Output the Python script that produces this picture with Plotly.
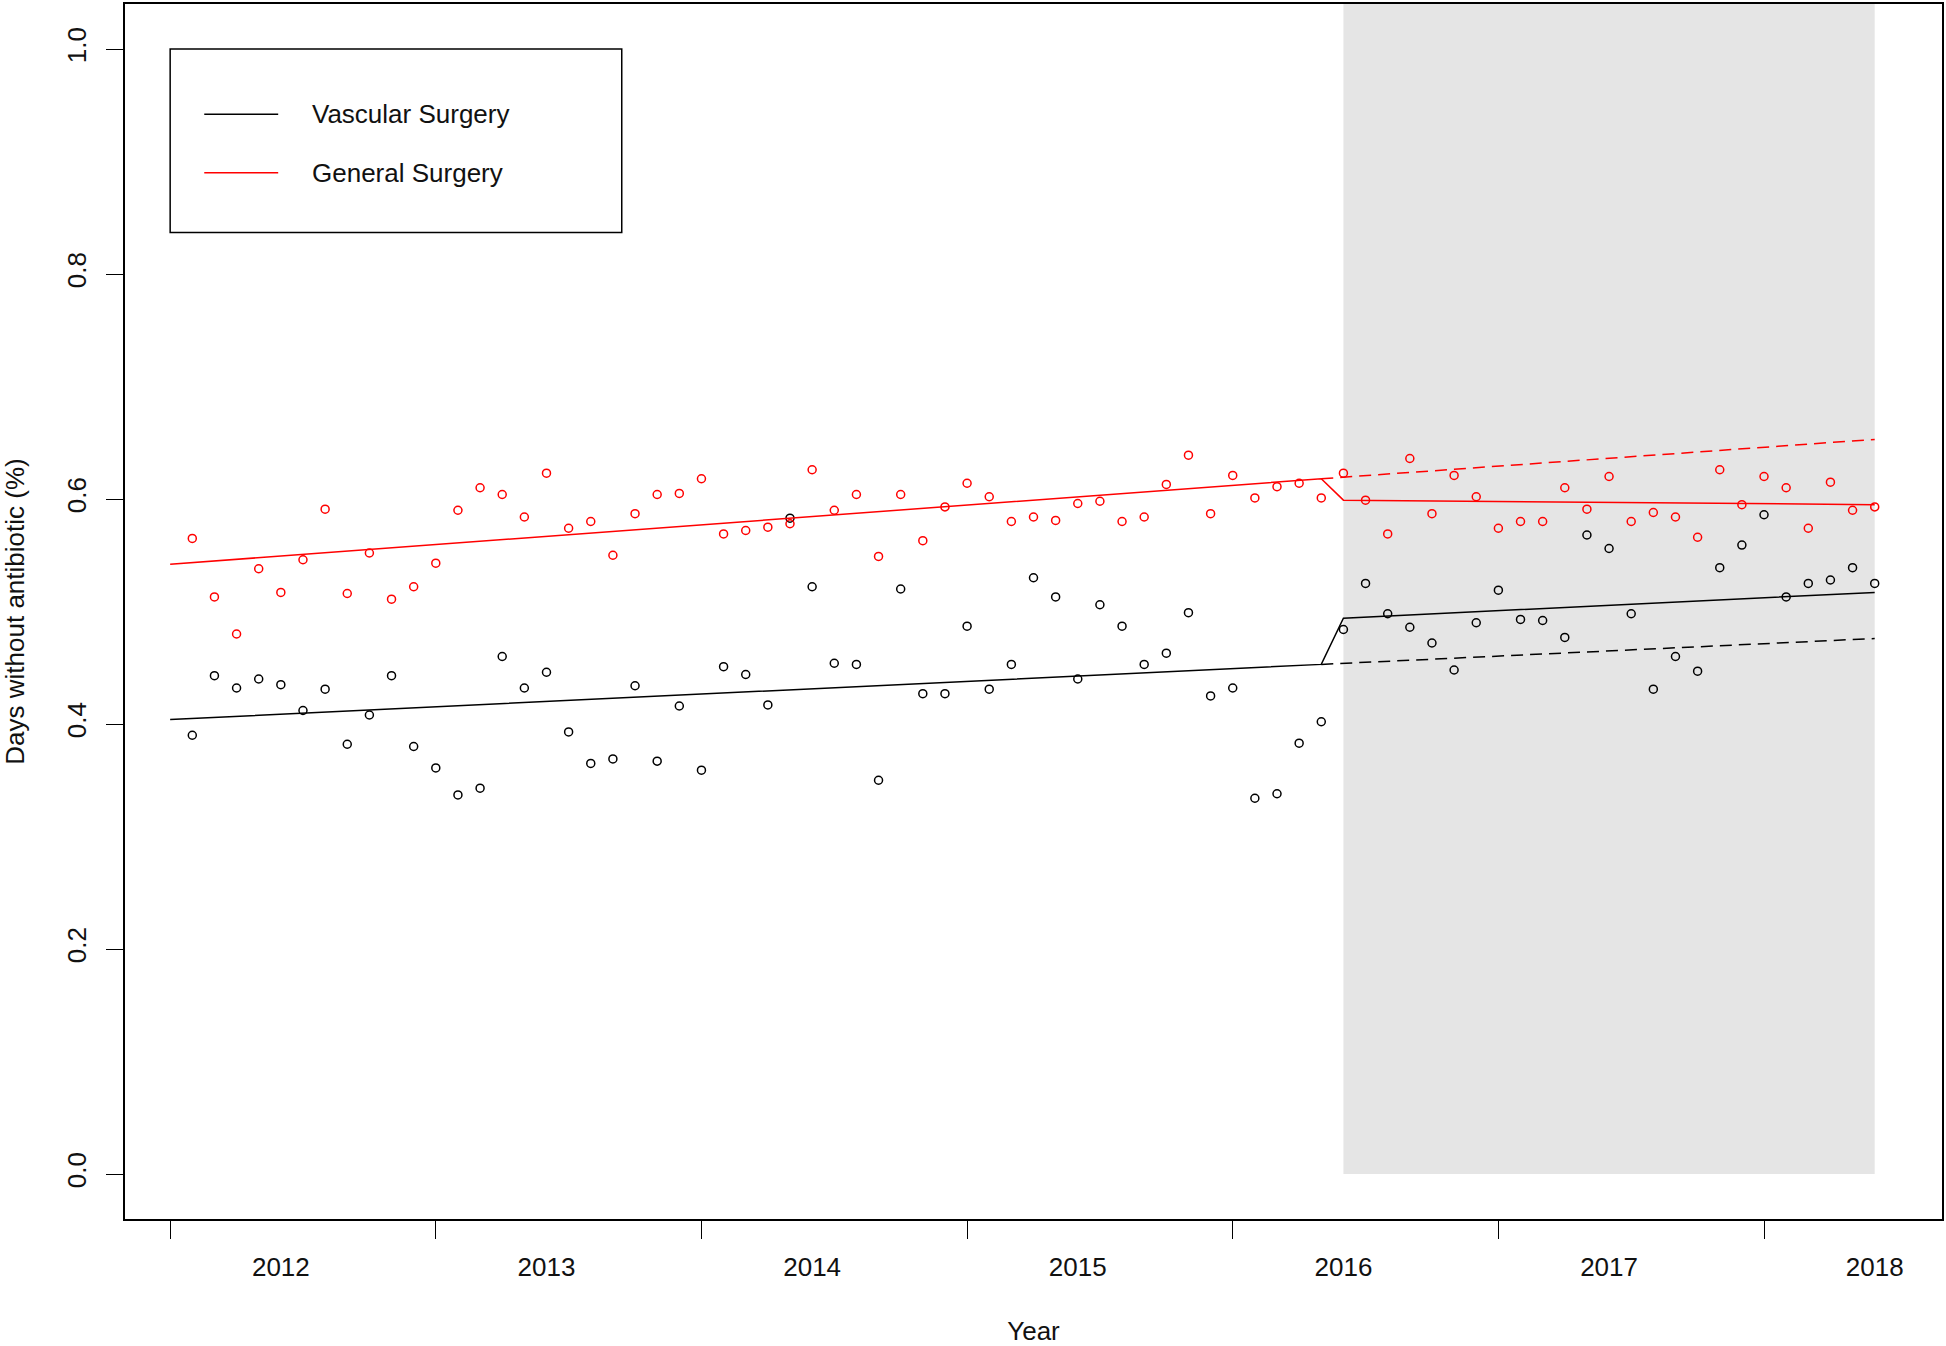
import plotly.graph_objects as go

# ---- data ----
months = list(range(1, 78))
vascular = [0.390, 0.443, 0.432, 0.440, 0.435, 0.412, 0.431, 0.382, 0.408, 0.443,
            0.380, 0.361, 0.337, 0.343, 0.460, 0.432, 0.446, 0.393, 0.365, 0.369,
            0.434, 0.367, 0.416, 0.359, 0.451, 0.444, 0.417, 0.583, 0.522, 0.454,
            0.453, 0.350, 0.520, 0.427, 0.427, 0.487, 0.431, 0.453, 0.530, 0.513,
            0.440, 0.506, 0.487, 0.453, 0.463, 0.499, 0.425, 0.432, 0.334, 0.338,
            0.383, 0.402, 0.484, 0.525, 0.498, 0.486, 0.472, 0.448, 0.490, 0.519,
            0.493, 0.492, 0.477, 0.568, 0.556, 0.498, 0.431, 0.460, 0.447, 0.539,
            0.559, 0.586, 0.513, 0.525, 0.528, 0.539, 0.525]
general = [0.565, 0.513, 0.480, 0.538, 0.517, 0.546, 0.591, 0.516, 0.552, 0.511,
           0.522, 0.543, 0.590, 0.610, 0.604, 0.584, 0.623, 0.574, 0.580, 0.550,
           0.587, 0.604, 0.605, 0.618, 0.569, 0.572, 0.575, 0.578, 0.626, 0.590,
           0.604, 0.549, 0.604, 0.563, 0.593, 0.614, 0.602, 0.580, 0.584, 0.581,
           0.596, 0.598, 0.580, 0.584, 0.613, 0.639, 0.587, 0.621, 0.601, 0.611,
           0.614, 0.601, 0.623, 0.599, 0.569, 0.636, 0.587, 0.621, 0.602, 0.574,
           0.580, 0.580, 0.610, 0.591, 0.620, 0.580, 0.588, 0.584, 0.566, 0.626,
           0.595, 0.620, 0.610, 0.574, 0.615, 0.590, 0.593]

# fitted segmented-regression lines
fit_x = [0, 52, 53, 77]
vascular_fit = [0.404, 0.453, 0.494, 0.517]
general_fit = [0.542, 0.618, 0.599, 0.595]
cf_x = [52, 77]
vascular_cf = [0.453, 0.476]
general_cf = [0.618, 0.653]

intervention = [53, 77]
year_tick_pos = [0, 12, 24, 36, 48, 60, 72]
year_label_pos = [5, 17, 29, 41, 53, 65, 77]
year_labels = ["2012", "2013", "2014", "2015", "2016", "2017", "2018"]
series_names = ["Vascular Surgery", "General Surgery"]
series_colors = ["#000000", "#FF0000"]

FONT = "Liberation Sans, Arial, sans-serif"
FS = 26
W, H = 1946, 1346

fig = go.Figure()

for ys, fit, cf, col in [(vascular, vascular_fit, vascular_cf, series_colors[0]),
                         (general, general_fit, general_cf, series_colors[1])]:
    fig.add_trace(go.Scatter(x=months, y=ys, mode="markers",
                             marker=dict(symbol="circle-open", size=8, color=col,
                                         line=dict(width=1.5, color=col)),
                             showlegend=False, hoverinfo="skip"))
    fig.add_trace(go.Scatter(x=fit_x, y=fit, mode="lines",
                             line=dict(color=col, width=1.5),
                             showlegend=False, hoverinfo="skip"))
    fig.add_trace(go.Scatter(x=cf_x, y=cf, mode="lines",
                             line=dict(color=col, width=1.5, dash="12px,7px"),
                             showlegend=False, hoverinfo="skip"))

# dummy trace for label axis
fig.add_trace(go.Scatter(x=year_label_pos, y=[None] * len(year_label_pos),
                         xaxis="x2", mode="markers", showlegend=False, hoverinfo="skip"))

# shaded post-intervention period
fig.add_shape(type="rect", xref="x", yref="y", x0=intervention[0], x1=intervention[1],
              y0=0, y1=1.04, fillcolor="#E5E5E5", line=dict(width=0), layer="below")

# legend box (R style)
fig.add_shape(type="rect", xref="x", yref="y", x0=0, x1=20.4, y0=0.837, y1=1.0,
              line=dict(color="black", width=1.5), fillcolor="rgba(0,0,0,0)")
for k, (nm, col) in enumerate(zip(series_names, series_colors)):
    yy = [0.942, 0.890][k]
    fig.add_shape(type="line", xref="x", yref="y", x0=1.54, x1=4.88, y0=yy, y1=yy,
                  line=dict(color=col, width=1.5))
    fig.add_annotation(x=6.33, y=yy, xref="x", yref="y", text=nm, showarrow=False,
                       xanchor="left", yanchor="middle",
                       font=dict(family=FONT, size=FS, color="#111111"))

axis_common = dict(showgrid=False, zeroline=False, linecolor="black", linewidth=1.5,
                   tickcolor="black", tickwidth=1.3,
                   tickfont=dict(family=FONT, size=FS, color="#111111"))

fig.update_layout(
    width=W, height=H, autosize=False,
    margin=dict(l=125, r=4, t=2, b=127),
    paper_bgcolor="white", plot_bgcolor="white",
    font=dict(family=FONT, size=FS, color="#111111"),
    xaxis=dict(range=[-2.04, 80.04], tickvals=year_tick_pos, showticklabels=False,
               ticks="outside", ticklen=18, showline=True, mirror=True, **axis_common),
    xaxis2=dict(range=[-2.04, 80.04], overlaying="x", anchor="y", side="bottom",
                tickvals=year_label_pos, ticktext=year_labels, ticks="",
                showline=False, ticklabelstandoff=30,
                title=dict(text="Year", standoff=41,
                           font=dict(family=FONT, size=FS, color="#111111")),
                **axis_common),
    yaxis=dict(range=[-0.04, 1.04], tickvals=[0, 0.2, 0.4, 0.6, 0.8, 1.0],
               tickformat=".1f", tickangle=-90, ticks="outside", ticklen=17,
               ticklabelstandoff=10,
               showline=True, mirror=True,
               title=dict(text="Days without antibiotic (%)", standoff=30,
                          font=dict(family=FONT, size=FS, color="#111111")),
               **axis_common),
    showlegend=False,
)

post = ("document.body.style.margin='0';document.body.style.padding='0';"
        "document.body.style.overflow='hidden';"
        "var gd=document.getElementById('{plot_id}');"
        "Plotly.relayout(gd,{width:%d,height:%d});" % (W, H))

fig.write_html("out.html", config={"responsive": False, "displayModeBar": False},
               post_script=post)
